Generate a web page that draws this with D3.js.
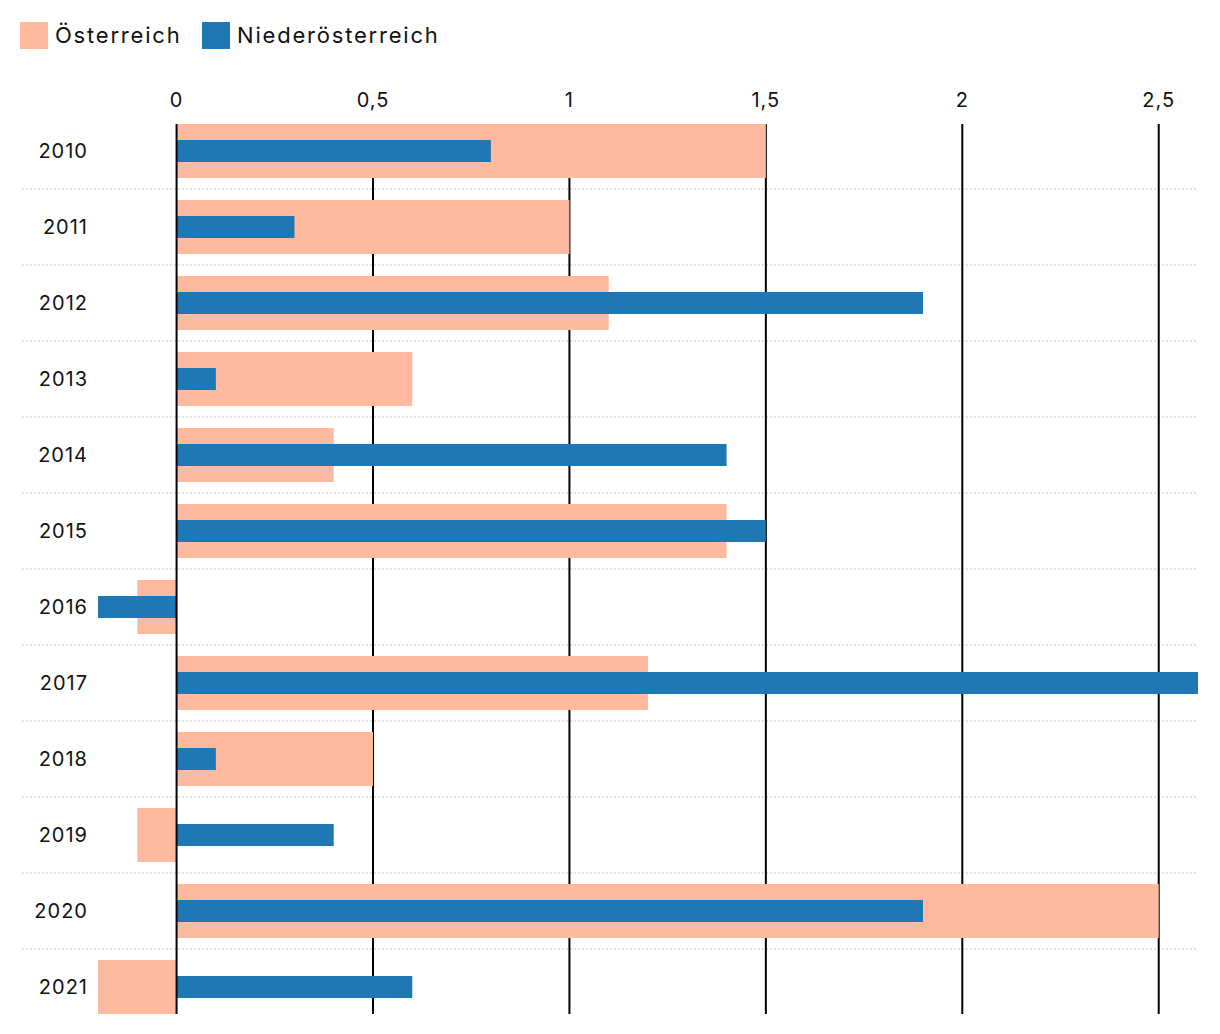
<!DOCTYPE html>
<html><head><meta charset="utf-8">
<script src="https://cdn.jsdelivr.net/npm/d3@7"></script>
<style>body{margin:0;background:#fff;font-family:Inter,"Noto Sans",sans-serif;}</style>
</head><body><svg id="c" width="1220" height="1034"></svg>
<script>
const years = ["2010","2011","2012","2013","2014","2015","2016","2017","2018","2019","2020","2021"];
const oesterreich = [1.5,1.0,1.1,0.6,0.4,1.4,-0.1,1.2,0.5,-0.1,2.5,-0.2];
const niederoesterreich = [0.8,0.3,1.9,0.1,1.4,1.5,-0.2,2.6,0.1,0.4,1.9,0.6];
const seriesNames = ["Österreich","Niederösterreich"];
const colors = ["#feb99e","#1f77b4"];
const tickValues = [0,0.5,1,1.5,2,2.5];

const svg = d3.select("#c");
const x = d3.scaleLinear().domain([-0.2,2.6]).range([98,1198]);
const y = d3.scaleBand().domain(years).range([124,1014]).paddingInner(22/76).paddingOuter(0);
const step = y.step();
const fmt = v => String(v).replace(".", ",");

// separators
svg.append("g").selectAll("line").data(years.slice(1)).join("line")
  .attr("x1",22).attr("x2",1198)
  .attr("y1",d=>y(d)-(step-y.bandwidth())/2).attr("y2",d=>y(d)-(step-y.bandwidth())/2)
  .attr("stroke","#d9d9d9").attr("stroke-width",1.5).attr("stroke-dasharray","2,2");

// gridlines
svg.append("g").selectAll("line").data(tickValues.filter(v=>v!==0)).join("line")
  .attr("x1",d=>x(d)).attr("x2",d=>x(d))
  .attr("y1",124).attr("y2",1014)
  .attr("stroke","#000").attr("stroke-width",2);

// tick labels
svg.append("g").selectAll("text").data(tickValues).join("text")
  .attr("x",d=>x(d)).attr("y",107).attr("text-anchor","middle")
  .attr("font-size",20).attr("letter-spacing",1).attr("fill","#111").text(fmt);

// Österreich bars
svg.append("g").selectAll("rect").data(years).join("rect")
  .attr("x",(d,i)=>x(Math.min(0,oesterreich[i])))
  .attr("width",(d,i)=>Math.abs(x(oesterreich[i])-x(0)))
  .attr("y",d=>y(d)).attr("height",y.bandwidth())
  .attr("fill",colors[0]);

// Niederösterreich bars
const bh = 22;
svg.append("g").selectAll("rect").data(years).join("rect")
  .attr("x",(d,i)=>x(Math.min(0,niederoesterreich[i])))
  .attr("width",(d,i)=>Math.abs(x(niederoesterreich[i])-x(0)))
  .attr("y",d=>y(d)+(y.bandwidth()-bh)/2).attr("height",bh)
  .attr("fill",colors[1]);

// zero line on top
svg.append("line").attr("x1",x(0)).attr("x2",x(0)).attr("y1",124).attr("y2",1014)
  .attr("stroke","#000").attr("stroke-width",2);

// year labels
svg.append("g").selectAll("text").data(years).join("text")
  .attr("x",88).attr("y",d=>y(d)+y.bandwidth()/2+7).attr("text-anchor","end")
  .attr("font-size",20).attr("letter-spacing",1).attr("fill","#111").text(d=>d);

// legend
const lg = svg.append("g");
const lx = [20,202];
seriesNames.forEach((n,i)=>{
  lg.append("rect").attr("x",lx[i]).attr("y",22).attr("width",28).attr("height",27).attr("fill",colors[i]);
  lg.append("text").attr("x",lx[i]+35).attr("y",43).attr("font-size",22).attr("letter-spacing",1.8).attr("fill","#111").text(n);
});
</script></body></html>
